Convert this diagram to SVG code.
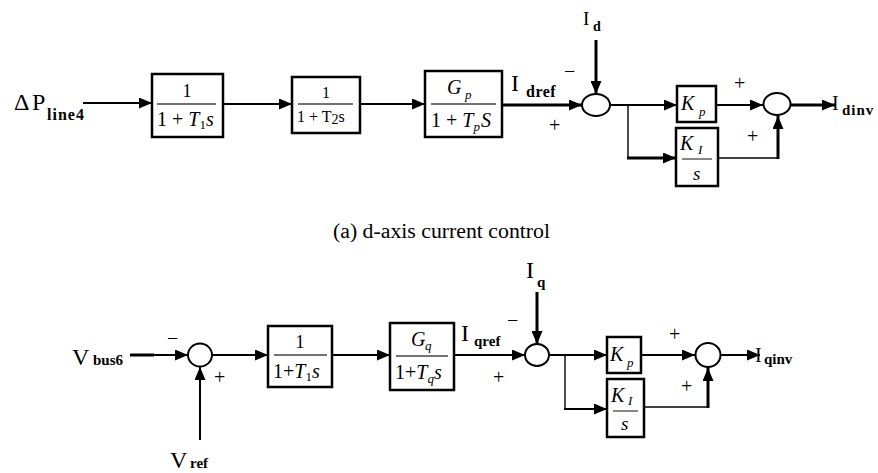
<svg xmlns="http://www.w3.org/2000/svg" width="878" height="473" viewBox="0 0 878 473" font-family="Liberation Serif">
<defs>
<style>
.box{fill:#fff;stroke:#000;stroke-width:2.5}
.sum{fill:#fff;stroke:#000;stroke-width:2}
.frac{stroke:#444;stroke-width:1.3}
.ln{fill:none;stroke:#000;stroke-width:2}
.thk{fill:none;stroke:#000;stroke-width:3}
.thn{fill:none;stroke:#000;stroke-width:1.4}
.it{font-style:italic}
.sg{font-size:20px}
</style>
<marker id="ah" markerWidth="13" markerHeight="11" refX="13" refY="5.5" orient="auto" markerUnits="userSpaceOnUse"><path d="M0,0 L13,5.5 L0,11 z" fill="#000"/></marker>
</defs>
<rect width="878" height="473" fill="#fff"/>

<g id="connectors">
<path class="ln" d="M83,103 H152" marker-end="url(#ah)"/>
<path class="ln" d="M223,104 H292" marker-end="url(#ah)"/>
<path class="ln" d="M360,104 H425" marker-end="url(#ah)"/>
<path class="thk" d="M502,105 H582" marker-end="url(#ah)"/>
<path class="thk" d="M596,40 V94" marker-end="url(#ah)"/>
<path class="ln" d="M610,105 H677" marker-end="url(#ah)"/>
<path class="thn" d="M628,105 V158"/>
<path class="thk" d="M627,158 H676" marker-end="url(#ah)"/>
<path class="ln" d="M716,105 H763" marker-end="url(#ah)"/>
<path class="thn" d="M718,158 H778"/>
<path class="thk" d="M778,159 V116" marker-end="url(#ah)"/>
<path class="thk" d="M790,105 H835" marker-end="url(#ah)"/>

<path class="thk" d="M130,355 H154"/>
<path class="ln" d="M150,355 H188" marker-end="url(#ah)"/>
<path class="ln" d="M200,440 V367" marker-end="url(#ah)"/>
<path class="ln" d="M212,355 H268" marker-end="url(#ah)"/>
<path class="ln" d="M332,355 H390" marker-end="url(#ah)"/>
<path class="ln" d="M454,355 H525" marker-end="url(#ah)"/>
<path class="thk" d="M537,292 V344" marker-end="url(#ah)"/>
<path class="ln" d="M549,355 H607" marker-end="url(#ah)"/>
<path class="thn" d="M565,355 V409"/>
<path class="ln" d="M564,409 H607" marker-end="url(#ah)"/>
<path class="ln" d="M641,355 H695" marker-end="url(#ah)"/>
<path class="thn" d="M644,407 H708"/>
<path class="thk" d="M708,408 V368" marker-end="url(#ah)"/>
<path class="ln" d="M720,355 H760" marker-end="url(#ah)"/>
</g>

<g id="in-dP">
<text x="14" y="110" font-size="24">Δ</text>
<text x="32" y="110" font-size="24">P</text>
<text x="47" y="120" font-size="16" font-weight="bold" letter-spacing="1">line4</text>
</g>

<g id="box1">
<rect class="box" x="152" y="74" width="71" height="63"/>
<line class="frac" x1="157" y1="104" x2="216" y2="104"/>
<text x="187" y="97" font-size="18" text-anchor="middle">1</text>
<text x="157" y="126" font-size="20">1 + <tspan class="it">T</tspan><tspan font-size="13" dy="3">1</tspan><tspan class="it" dy="-3">s</tspan></text>
</g>

<g id="box2">
<rect class="box" x="292" y="77" width="68" height="56"/>
<line class="frac" x1="298" y1="104" x2="353" y2="104"/>
<text x="326" y="98" font-size="16" text-anchor="middle">1</text>
<text x="297" y="122" font-size="16">1 + T<tspan font-size="14" dy="2">2</tspan><tspan dy="-2">s</tspan></text>
</g>

<g id="box3">
<rect class="box" x="425" y="71" width="77" height="66"/>
<line class="frac" x1="431" y1="104" x2="496" y2="104"/>
<text x="447" y="94" font-size="20" class="it">G</text>
<text x="465" y="99" font-size="13" class="it">p</text>
<text x="431" y="127" font-size="20">1 + <tspan class="it">T</tspan><tspan class="it" font-size="13" dy="4">p</tspan><tspan class="it" dy="-4" dx="1">S</tspan></text>
</g>

<g id="lbl-Idref">
<text x="511" y="91" font-size="24">I</text>
<text x="526" y="97" font-size="16" font-weight="bold" letter-spacing="0.5">dref</text>
<text class="sg" x="564" y="78">−</text>
<text class="sg" x="549" y="132">+</text>
</g>

<g id="sum1">
<ellipse class="sum" cx="596" cy="105" rx="14" ry="11"/>
<text x="583" y="25" font-size="19">I</text>
<text x="593" y="31" font-size="14" font-weight="bold">d</text>
</g>

<g id="kp1">
<rect class="box" x="677" y="86" width="39" height="36"/>
<text x="681" y="110" font-size="20" class="it">K</text>
<text x="699" y="116" font-size="13" class="it">p</text>
</g>

<g id="ki1">
<rect class="box" x="676" y="128" width="42" height="58"/>
<line class="frac" x1="682" y1="159" x2="712" y2="159"/>
<text x="680" y="150" font-size="20" class="it">K</text>
<text x="698" y="154" font-size="13" class="it">I</text>
<text x="693" y="180" font-size="19" class="it">s</text>
</g>

<g id="sum2">
<ellipse class="sum" cx="777" cy="104" rx="13.5" ry="11"/>
<text class="sg" x="734" y="90">+</text>
<text class="sg" x="747" y="143">+</text>
</g>

<g id="out-Idinv">
<text x="832" y="110" font-size="20">I</text>
<text x="842" y="115" font-size="15" font-weight="bold" letter-spacing="1">dinv</text>
</g>

<text id="caption" x="333" y="238" font-size="20" textLength="217" lengthAdjust="spacingAndGlyphs">(a) d-axis current control</text>

<g id="in-Vbus6">
<text x="72" y="365" font-size="24">V</text>
<text x="93" y="365" font-size="15" font-weight="bold">bus6</text>
</g>

<g id="sum3">
<ellipse class="sum" cx="200" cy="355" rx="12" ry="11.5"/>
<text class="sg" x="167" y="345">−</text>
<text class="sg" x="214" y="384">+</text>
</g>

<g id="in-Vref">
<text x="170" y="468" font-size="24">V</text>
<text x="190" y="468" font-size="15" font-weight="bold">ref</text>
</g>

<g id="box4">
<rect class="box" x="268" y="326" width="64" height="61"/>
<line class="frac" x1="274" y1="355" x2="327" y2="355"/>
<text x="300" y="348" font-size="18" text-anchor="middle">1</text>
<text x="273" y="378" font-size="20">1+<tspan class="it">T</tspan><tspan font-size="13" dy="3">1</tspan><tspan class="it" dy="-3">s</tspan></text>
</g>

<g id="box5">
<rect class="box" x="390" y="323" width="64" height="67"/>
<line class="frac" x1="396" y1="356" x2="448" y2="356"/>
<text x="411" y="346" font-size="20" class="it">G</text>
<text x="425" y="350" font-size="13" class="it">q</text>
<text x="395" y="379" font-size="20">1+<tspan class="it">T</tspan><tspan class="it" font-size="13" dy="4">q</tspan><tspan class="it" dy="-4">s</tspan></text>
</g>

<g id="lbl-Iqref">
<text x="461" y="341" font-size="24">I</text>
<text x="474" y="346" font-size="15" font-weight="bold">qref</text>
<text class="sg" x="507" y="327">−</text>
<text class="sg" x="493" y="384">+</text>
</g>

<g id="sum4">
<ellipse class="sum" cx="537" cy="355" rx="12" ry="11"/>
<text x="526" y="278" font-size="24">I</text>
<text x="537" y="287" font-size="15" font-weight="bold">q</text>
</g>

<g id="kp2">
<rect class="box" x="607" y="337" width="34" height="36"/>
<text x="610" y="361" font-size="20" class="it">K</text>
<text x="627" y="367" font-size="13" class="it">p</text>
</g>

<g id="ki2">
<rect class="box" x="607" y="379" width="37" height="58"/>
<line class="frac" x1="613" y1="411" x2="638" y2="411"/>
<text x="611" y="402" font-size="20" class="it">K</text>
<text x="628" y="405" font-size="13" class="it">I</text>
<text x="621" y="430" font-size="19" class="it">s</text>
</g>

<g id="sum5">
<ellipse class="sum" cx="708" cy="355" rx="12.5" ry="12"/>
<text class="sg" x="669" y="341">+</text>
<text class="sg" x="681" y="393">+</text>
</g>

<g id="out-Iqinv">
<text x="755" y="362" font-size="20">I</text>
<text x="764" y="364" font-size="15" font-weight="bold">qinv</text>
</g>
</svg>
